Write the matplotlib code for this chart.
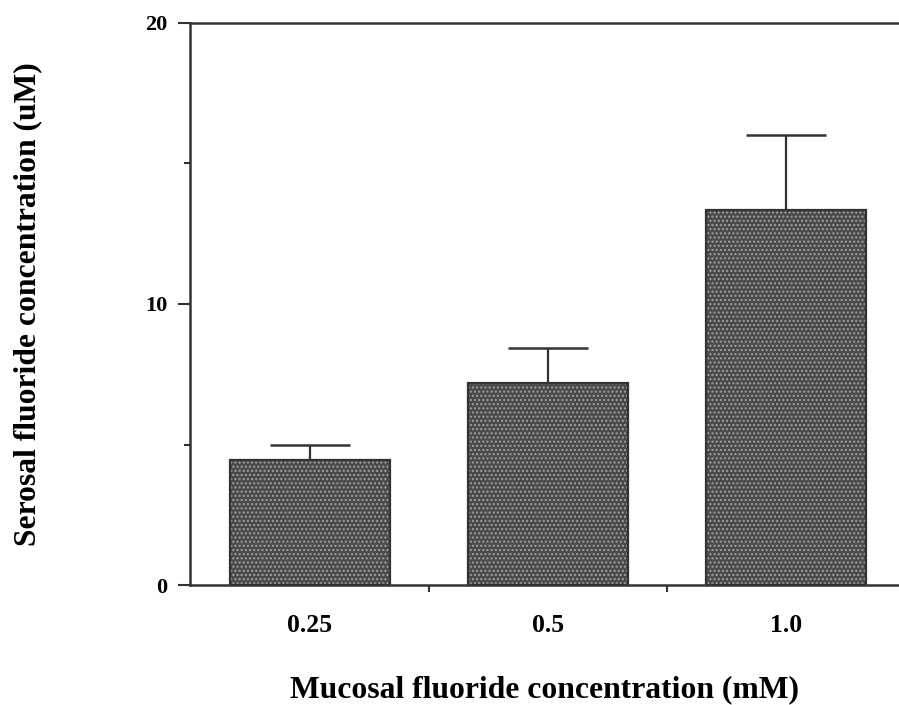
import matplotlib.pyplot as plt
import numpy as np

# values
concentrations = ["0.25", "0.5", "1.0"]
serosal_mean = [4.45, 7.2, 13.35]
serosal_err = [0.55, 1.25, 2.65]

plt.rcParams["font.family"] = ["Liberation Serif", "DejaVu Serif"]
plt.rcParams["font.weight"] = "bold"

fig = plt.figure(figsize=(8.99, 7.05), dpi=100)
ax = fig.add_axes([0.2113, 0.1702, 0.7887, 0.7972])

x = np.arange(len(concentrations))
dark = "#333333"

# stippled fill, then outline on top
ax.bar(x, serosal_mean, width=0.67, color="#4a4a4a", edgecolor="#a0a0a0",
       hatch="....", linewidth=0, zorder=2)
ax.bar(x, serosal_mean, width=0.67, color="none", edgecolor=dark,
       linewidth=1.6, zorder=3)
ax.errorbar(x, serosal_mean, yerr=[np.zeros(len(x)), serosal_err], fmt="none",
            ecolor=dark, elinewidth=1.6, capsize=29, capthick=1.8, zorder=1)

ax.set_xlim(-0.504, 2.475)
ax.set_ylim(0, 20)

ax.spines["right"].set_visible(False)
for side in ["left", "top", "bottom"]:
    ax.spines[side].set_linewidth(1.8)
    ax.spines[side].set_color(dark)

ax.set_yticks([0, 10, 20])
ax.set_yticks([5, 15], minor=True)
ax.tick_params(axis="y", which="major", direction="out", length=8.5, width=1.5,
               color=dark, labelsize=16, pad=8)
ax.tick_params(axis="y", which="minor", direction="out", length=4.5, width=1.5,
               color=dark)

# tick marks sit between the bars, labels under the bars
ax.set_xticks(x[:-1] + 0.5)
ax.set_xticklabels([])
ax.set_xticks(x, minor=True)
ax.set_xticklabels(concentrations, minor=True)
ax.tick_params(axis="x", which="major", direction="out", length=5, width=1.5,
               color=dark)
ax.tick_params(axis="x", which="minor", length=0, labelsize=18.5, pad=21)

ax.set_ylabel("Serosal fluoride concentration (uM)", fontsize=22.8,
              fontweight="bold")
ax.yaxis.set_label_coords(-0.208, 0.5)
ax.set_xlabel("Mucosal fluoride concentration (mM)", fontsize=22.8,
              fontweight="bold")
ax.xaxis.set_label_coords(0.5, -0.16)

fig.savefig("out.png", dpi=100)
plt.close(fig)
